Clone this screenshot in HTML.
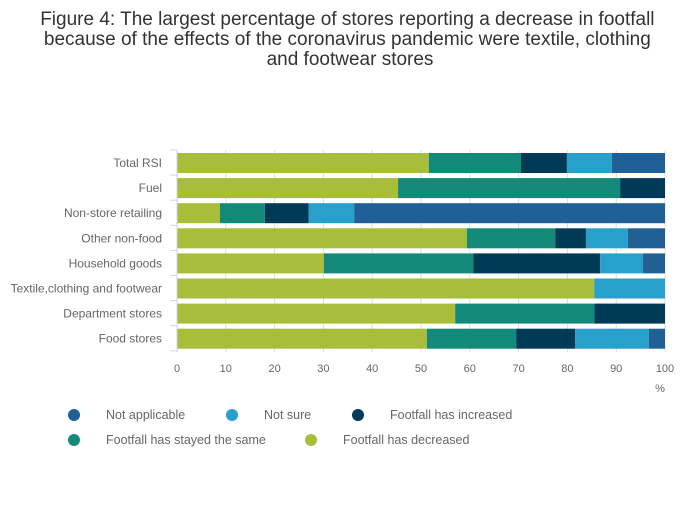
<!DOCTYPE html>
<html><head><meta charset="utf-8"><style>
body{margin:0;background:#fff;font-family:"Liberation Sans",sans-serif}
</style></head><body>
<svg id="chart" width="700" height="502" font-family="Liberation Sans, sans-serif">
<text x="350" y="25" font-size="19" fill="#333" text-anchor="middle">
<tspan x="350" dy="0">Figure 4: The largest percentage of stores reporting a decrease in footfall</tspan>
<tspan x="350" dy="20">because of the effects of the coronavirus pandemic were textile, clothing</tspan>
<tspan x="350" dy="20">and footwear stores</tspan></text>
<g id="grid"></g><g id="bars"></g><g id="axes"></g><g id="legend"></g>
</svg>
<script>
const categories=["Total RSI","Fuel","Non-store retailing","Other non-food","Household goods","Textile,clothing and footwear","Department stores","Food stores"];
const decreased=[51.6,45.3,8.8,59.4,30.1,85.5,57.0,51.2];
const stayedSame=[18.9,45.5,9.2,18.1,30.6,0,28.5,18.3];
const increased=[9.4,9.2,9.0,6.3,26.0,0,14.5,12.1];
const notSure=[9.2,0,9.3,8.6,8.8,14.5,0,15.1];
const notApplicable=[10.9,0,63.7,7.6,4.5,0,0,3.3];
const xTicks=[0,10,20,30,40,50,60,70,80,90,100];
const seriesNames=["Not applicable","Not sure","Footfall has increased","Footfall has stayed the same","Footfall has decreased"];
const NS="http://www.w3.org/2000/svg";
const x0=177,x1=665,yTop=150,rowH=25.1;
const xs=v=>x0+(x1-x0)*v/100;
const yc=i=>yTop+rowH*i+13;
function mk(t,a,p){const e=document.createElementNS(NS,t);for(const k in a)e.setAttribute(k,a[k]);p.appendChild(e);return e;}
const grid=document.getElementById('grid'),bars=document.getElementById('bars'),axes=document.getElementById('axes'),leg=document.getElementById('legend');
xTicks.forEach(t=>{
 const l=mk('line',{x1:xs(t),x2:xs(t),y1:150,y2:352,stroke:'#ddd','stroke-width':1},grid);
 
 
 const tx=mk('text',{x:xs(t),y:372,'font-size':11,fill:'#666','text-anchor':'middle'},axes);
 tx.textContent=t;
 
 
});
const pct=mk('text',{x:660,y:392,'font-size':11,fill:'#666','text-anchor':'middle'},axes);pct.textContent='%';


const series=[decreased,stayedSame,increased,notSure,notApplicable];
const colors=["#a8bd3a","#138a79","#003a57","#27a0cc","#206095"];
categories.forEach((c,i)=>{
 let acc=0;
 series.forEach((s,j)=>{
  const v=s[i];
  if(v>0){const r=mk('rect',{x:xs(acc),y:yc(i)-10,width:xs(acc+v)-xs(acc),height:20,fill:colors[j]},bars);
  
  }
  acc+=v;
 });
 const t=mk('text',{x:162,y:yc(i)+4,'font-size':12,fill:'#666','text-anchor':'end'},axes);
 t.textContent=c;
 
 
 mk('line',{x1:170,x2:177,y1:yTop+rowH*i,y2:yTop+rowH*i,stroke:'#ccd6eb'},axes);
});
mk('line',{x1:170,x2:177,y1:yTop+rowH*8,y2:yTop+rowH*8,stroke:'#ccd6eb'},axes);
const ax=mk('line',{x1:177,x2:177,y1:150,y2:352,stroke:'#ccd6eb'},axes);


const legPos=[[74,415,4],[232,415,3],[358,415,2],[74,440,1],[311,440,0]];
legPos.forEach((p,k)=>{
 const g=mk('g',{},leg);
 
 
 mk('circle',{cx:p[0],cy:p[1],r:6,fill:colors[p[2]]},g);
 const t=mk('text',{x:p[0]+32,y:p[1]+4,'font-size':12.5,fill:'#666'},g);
 t.textContent=seriesNames[k];
});
</script>
</body></html>
